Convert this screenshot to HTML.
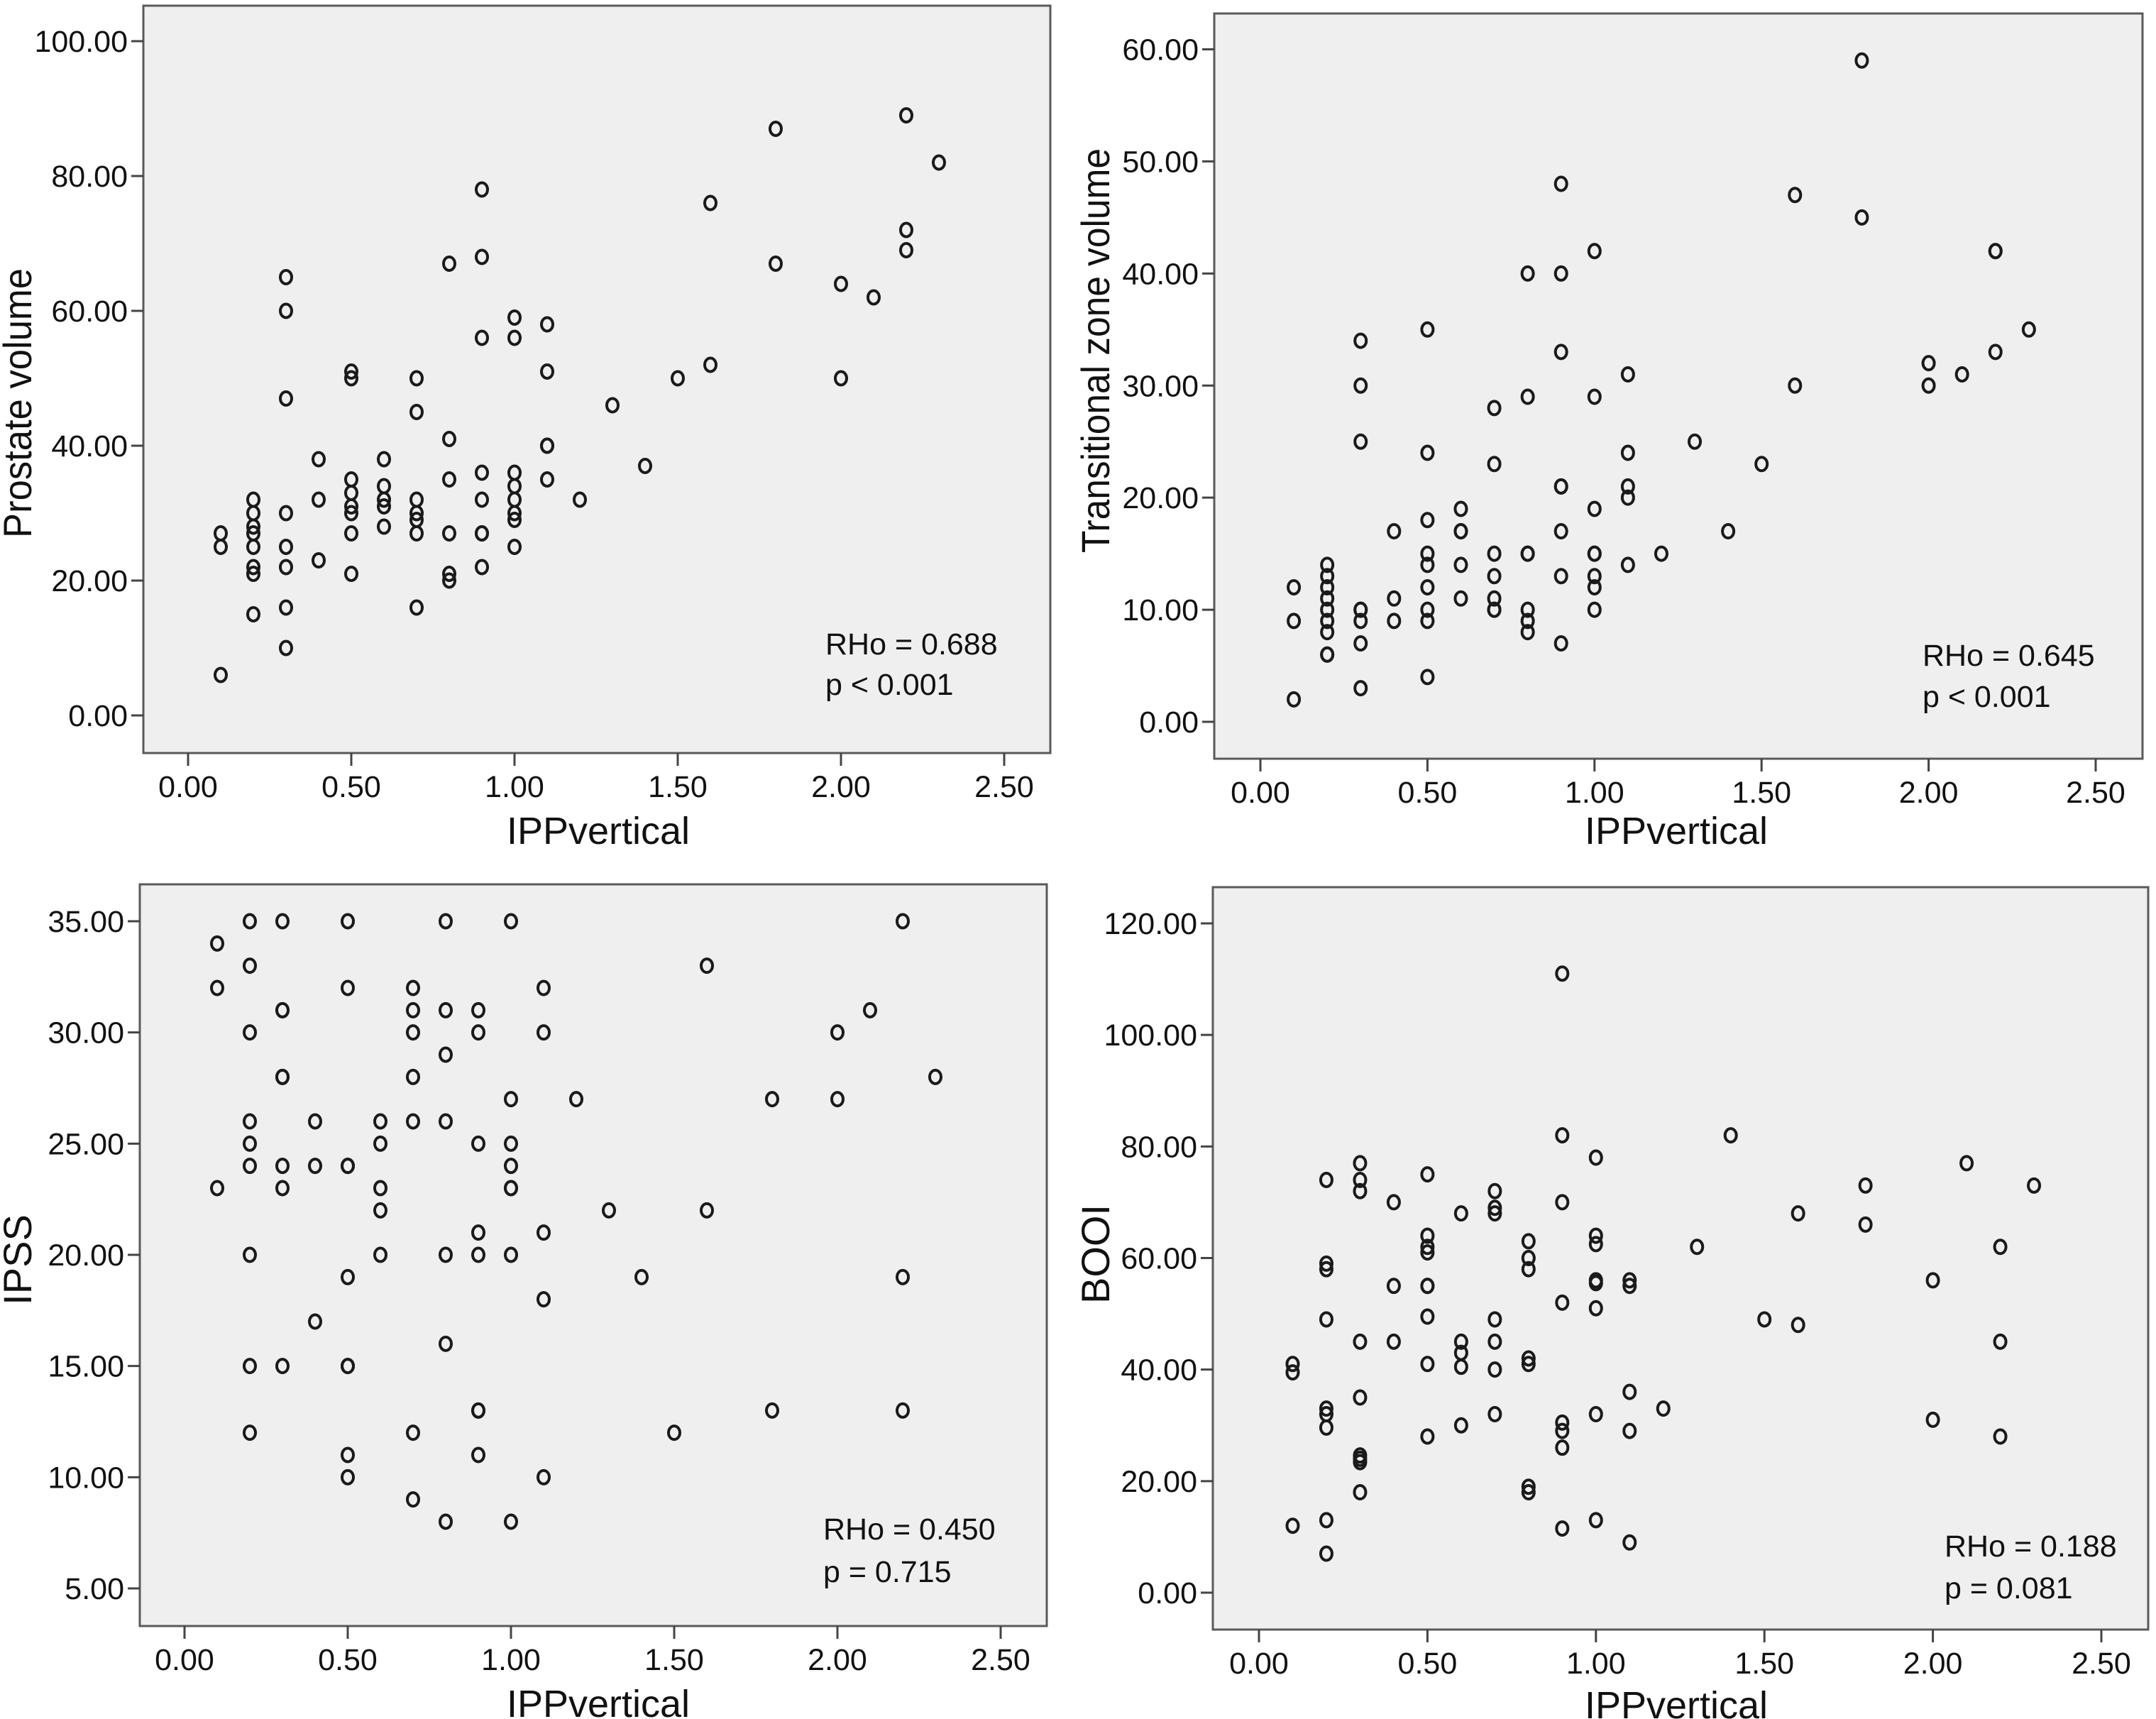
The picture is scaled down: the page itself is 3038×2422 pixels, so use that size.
<!DOCTYPE html>
<html><head><meta charset="utf-8"><style>
html,body{margin:0;padding:0;background:#fff;}
svg{display:block;font-family:"Liberation Sans",Arial,sans-serif;}
</style></head><body>
<svg id="chart" width="3038" height="2422" viewBox="0 0 3038 2422" xmlns="http://www.w3.org/2000/svg"></svg>
<script>
// ---- Panel 1: Prostate volume ----
const p1X = [0.1,0.1,0.1, 0.2,0.2,0.2,0.2,0.2,0.2,0.2,0.2, 0.3,0.3,0.3,0.3,0.3,0.3,0.3,0.3, 0.4,0.4,0.4, 0.5,0.5,0.5,0.5,0.5,0.5,0.5,0.5, 0.6,0.6,0.6,0.6,0.6, 0.7,0.7,0.7,0.7,0.7,0.7,0.7, 0.8,0.8,0.8,0.8,0.8,0.8, 0.9,0.9,0.9,0.9,0.9,0.9,0.9,0.9, 1.0,1.0,1.0,1.0,1.0,1.0,1.0,1.0, 1.1,1.1,1.1,1.1,1.1, 1.2,1.3,1.4,1.5, 1.6,1.6, 1.8,1.8, 2.0,2.0, 2.1, 2.2,2.2,2.2, 2.3];
const p1Y = [27,25,6, 32,30,28,27,25,22,21,15, 65,60,47,30,25,22,16,10, 38,32,23, 51,50,35,33,31,30,27,21, 38,34,32,31,28, 50,45,32,30,29,27,16, 67,41,35,27,21,20, 78,68,56,36,32,27,27,22, 59,56,36,34,32,30,29,25, 58,51,40,40,35, 32,46,37,50, 76,52, 87,67, 64,50, 62, 89,72,69, 82];
const p1Ticks = [0,20,40,60,80,100];
// ---- Panel 2: Transitional zone volume ----
const p2X = [0.1,0.1,0.1, 0.2,0.2,0.2,0.2,0.2,0.2,0.2,0.2,0.2, 0.3,0.3,0.3,0.3,0.3,0.3,0.3,0.3, 0.4,0.4,0.4, 0.5,0.5,0.5,0.5,0.5,0.5,0.5,0.5,0.5, 0.6,0.6,0.6,0.6,0.6, 0.7,0.7,0.7,0.7,0.7,0.7,0.7, 0.8,0.8,0.8,0.8,0.8,0.8,0.8, 0.9,0.9,0.9,0.9,0.9,0.9,0.9,0.9, 1.0,1.0,1.0,1.0,1.0,1.0,1.0,1.0, 1.1,1.1,1.1,1.1,1.1, 1.2,1.3,1.4,1.5, 1.6,1.6, 1.8,1.8, 2.0,2.0, 2.1, 2.2,2.2,2.2, 2.3];
const p2Y = [12,9,2, 14,13,12,11,10,9,8,6,6, 34,30,25,10,10,9,7,3, 17,11,9, 35,24,18,15,14,12,10,9,4, 19,17,17,14,11, 28,23,15,13,11,10,10, 40,29,15,15,10,9,8, 48,40,33,21,21,17,13,7, 42,29,19,15,15,13,12,10, 31,24,21,20,14, 15,25,17,23, 47,30, 59,45, 32,30, 31, 42,42,33, 35];
const p2Ticks = [0,10,20,30,40,50,60];
// ---- Panel 3: IPSS ----
const p3X = [0.1,0.1,0.1, 0.2,0.2,0.2,0.2,0.2,0.2,0.2,0.2,0.2, 0.3,0.3,0.3,0.3,0.3,0.3,0.3,0.3, 0.4,0.4,0.4, 0.5,0.5,0.5,0.5,0.5,0.5,0.5,0.5,0.5, 0.6,0.6,0.6,0.6,0.6, 0.7,0.7,0.7,0.7,0.7,0.7,0.7, 0.8,0.8,0.8,0.8,0.8,0.8,0.8, 0.9,0.9,0.9,0.9,0.9,0.9,0.9,0.9, 1.0,1.0,1.0,1.0,1.0,1.0,1.0,1.0, 1.1,1.1,1.1,1.1,1.1, 1.2,1.3,1.4,1.5, 1.6,1.6, 1.8,1.8, 2.0,2.0, 2.1, 2.2,2.2,2.2, 2.3];
const p3Y = [34,32,23, 35,33,30,26,25,24,20,15,12, 35,31,31,28,28,24,23,15, 26,24,17, 35,32,24,24,19,15,15,11,10, 26,25,23,22,20, 32,31,30,28,26,12,9, 35,31,29,26,20,16,8, 31,30,25,21,20,13,13,11, 35,27,25,24,23,23,20,8, 32,30,21,18,10, 27,22,19,12, 33,22, 27,13, 30,27, 31, 35,19,13, 28];
const p3Ticks = [5,10,15,20,25,30,35];
// ---- Panel 4: BOOI ----
const p4X = [0.1,0.1,0.1, 0.2,0.2,0.2,0.2,0.2,0.2,0.2,0.2,0.2, 0.3,0.3,0.3,0.3,0.3,0.3,0.3,0.3,0.3, 0.4,0.4,0.4, 0.5,0.5,0.5,0.5,0.5,0.5,0.5,0.5,0.5, 0.6,0.6,0.6,0.6,0.6, 0.7,0.7,0.7,0.7,0.7,0.7,0.7, 0.8,0.8,0.8,0.8,0.8,0.8,0.8, 0.9,0.9,0.9,0.9,0.9,0.9,0.9,0.9, 1.0,1.0,1.0,1.0,1.0,1.0,1.0,1.0, 1.1,1.1,1.1,1.1,1.1, 1.2,1.3,1.4,1.5, 1.6,1.6, 1.8,1.8, 2.0,2.0, 2.1, 2.2,2.2,2.2, 2.3];
const p4Y = [41,39.5,12, 74,59,58,49,33,32,29.6,13,7, 77,74,72,45,35,24.6,24,23.4,18, 70,55,45, 75,64,62,61,55,55,49.5,41,28, 68,45,43,40.5,30, 72,69,68,49,45,40,32, 63,60,58,42,41,19,18, 111,82,70,52,30.5,29,26,11.5, 78,64,62.5,56,55.5,51,32,13, 56,55,36,29,9, 33,62,82,49, 68,48, 73,66, 56,31, 77, 62,45,28, 73];
const p4Ticks = [0,20,40,60,80,100,120];
const xTicks = [0,0.5,1.0,1.5,2.0,2.5];

const NS = "http://www.w3.org/2000/svg";
const svg = document.getElementById('chart');
function el(tag, attrs, parent) {
  const e = document.createElementNS(NS, tag);
  for (const k in attrs) e.setAttribute(k, attrs[k]);
  (parent || svg).appendChild(e);
  return e;
}

const panels = [
  {id:'prostate', xs:p1X, ys:p1Y, ticks:p1Ticks, L:202,R:1480,T:8,B:1061, x0:265,x25:1415, yv0:0,yp0:1008, yv1:100,yp1:58,
   title:'Prostate volume', titleY:568, titleX:44, titleLen:380, xTitleX:843, xTitleY:1189, annX:1163, annY1:922, annY2:979, ann1:'RHo = 0.688', ann2:'p < 0.001'},
  {id:'tz', xs:p2X, ys:p2Y, ticks:p2Ticks, L:1711,R:3019,T:19,B:1069, x0:1776,x25:2953, yv0:0,yp0:1017, yv1:60,yp1:69.5,
   title:'Transitional zone volume', titleY:494, titleX:1563, titleLen:570, xTitleX:2362, xTitleY:1189, annX:2709, annY1:938, annY2:996, ann1:'RHo = 0.645', ann2:'p < 0.001'},
  {id:'ipss', xs:p3X, ys:p3Y, ticks:p3Ticks, L:197,R:1475,T:1246,B:2291, x0:260,x25:1410, yv0:5,yp0:2238, yv1:35,yp1:1298,
   title:'IPSS', titleY:1775, titleX:44, titleLen:0, xTitleX:843, xTitleY:2419, annX:1160, annY1:2169, annY2:2229, ann1:'RHo = 0.450', ann2:'p = 0.715'},
  {id:'booi', xs:p4X, ys:p4Y, ticks:p4Ticks, L:1709,R:3027,T:1250,B:2296, x0:1774,x25:2961, yv0:0,yp0:2244, yv1:120,yp1:1301,
   title:'BOOI', titleY:1767, titleX:1563, titleLen:0, xTitleX:2362, xTitleY:2421, annX:2740, annY1:2193, annY2:2252, ann1:'RHo = 0.188', ann2:'p = 0.081'}
];

panels.forEach(p => {
  const sx = v => p.x0 + (v / 2.5) * (p.x25 - p.x0);
  const sy = v => p.yp0 + (v - p.yv0) / (p.yv1 - p.yv0) * (p.yp1 - p.yp0);
  const g = el('g', {});
  
  

  const bg = el('rect', {x:p.L, y:p.T, width:p.R-p.L, height:p.B-p.T, fill:'#efefef', stroke:'#5a5a5a', 'stroke-width':3}, g);
  
  

  p.ticks.forEach(t => {
    const y = sy(t);
    const tk = el('line', {x1:p.L-17, x2:p.L, y1:y, y2:y, stroke:'#444', 'stroke-width':3}, g);
    
    
    const tl = el('text', {x:p.L-22, y:y+15, 'text-anchor':'end', 'font-size':43, fill:'#111'}, g);
    tl.textContent = t.toFixed(2);
    
    
  });
  xTicks.forEach(t => {
    const x = sx(t);
    const tk = el('line', {x1:x, x2:x, y1:p.B, y2:p.B+18, stroke:'#444', 'stroke-width':3}, g);
    
    
    const tl = el('text', {x:x, y:p.B+62, 'text-anchor':'middle', 'font-size':43, fill:'#111'}, g);
    tl.textContent = t.toFixed(2);
    
    
  });

  p.xs.forEach((xv, i) => {
    const c = el('ellipse', {cx:sx(xv), cy:sy(p.ys[i]), rx:8, ry:9.5, fill:'none', stroke:'#1a1a1a', 'stroke-width':4}, g);
    
    
  });

  const yt = el('text', {x:0, y:0, 'text-anchor':'middle', 'font-size':56, fill:'#111',
    transform:'translate(' + p.titleX + ',' + p.titleY + ') rotate(-90)'}, g);
  if (p.titleLen) { yt.setAttribute('textLength', p.titleLen); yt.setAttribute('lengthAdjust', 'spacingAndGlyphs'); }
  yt.textContent = p.title;
  
  

  const xt = el('text', {x:p.xTitleX, y:p.xTitleY, 'text-anchor':'middle', 'font-size':54, fill:'#111'}, g);
  xt.textContent = 'IPPvertical';
  
  

  const a1 = el('text', {x:p.annX, y:p.annY1, 'font-size':43, fill:'#111'}, g);
  a1.textContent = p.ann1;
  
  
  const a2 = el('text', {x:p.annX, y:p.annY2, 'font-size':43, fill:'#111'}, g);
  a2.textContent = p.ann2;
  
  
});
</script>
</body></html>
